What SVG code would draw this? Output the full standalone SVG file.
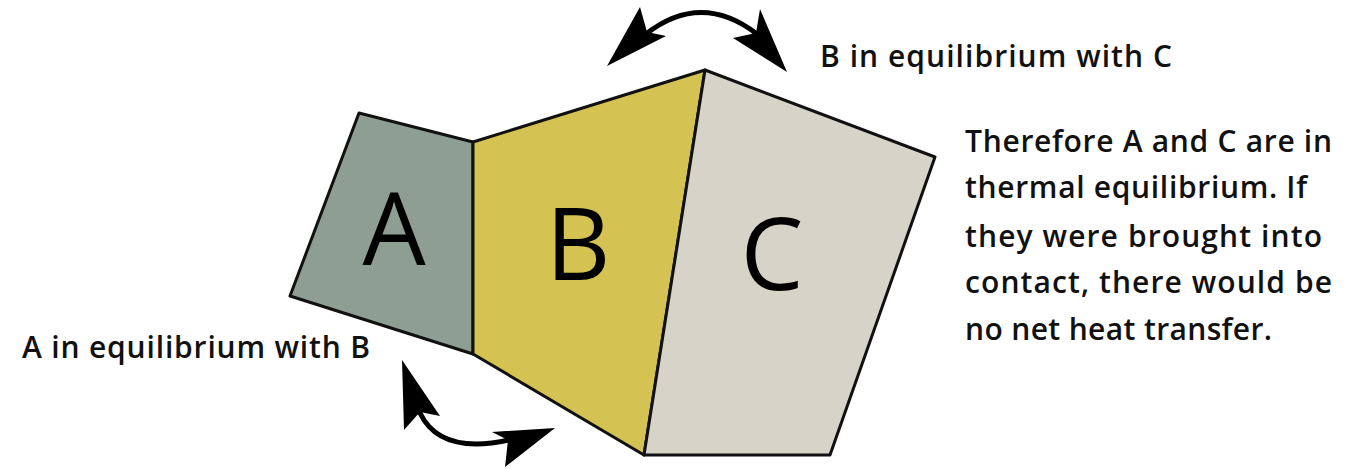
<svg xmlns="http://www.w3.org/2000/svg" width="1362" height="469" viewBox="0 0 1362 469">
<style>
.panel{stroke:#111;stroke-width:3;stroke-linejoin:round}
.big{font-family:"Open Sans","Noto Sans",sans-serif;font-size:100px;fill:#000;text-anchor:middle}
.lbl{font-family:"Open Sans","Noto Sans",sans-serif;font-size:30px;font-weight:600;fill:#111}
.shaft{fill:none;stroke:#000;stroke-width:5;stroke-linecap:round}
.head{fill:#000}
</style>
<rect width="1362" height="469" fill="#fff"/>
<g id="nodeA">
<polygon class="panel" points="359,113 473,142 473,354 290,296" fill="#8e9e93"/>
<text class="big" x="394" y="265">A</text>
</g>
<g id="nodeB">
<polygon class="panel" points="473,142 705,70 644,455 473,354" fill="#d4c252"/>
<text class="big" x="578" y="280">B</text>
</g>
<g id="nodeC">
<polygon class="panel" points="705,70 935,157 830,455 644,455" fill="#d6d4c9"/>
<text class="big" x="772" y="290">C</text>
</g>
<g id="connectors">
<path class="shaft" d="M646,34 Q701,-9 757,34"/>
<path class="head" d="M607,66 L640,7 L647,32 L666,36 Z"/>
<path class="head" d="M787,72 L760,9 L756,33 L733,38 Z"/>
<path class="shaft" d="M420,413 Q440,455 509,440"/>
<path class="head" d="M402,360 L440,416 L420,412 L404,430 Z"/>
<path class="head" d="M555,428 L492,432 L508,440 L505,467 Z"/>
</g>
<g id="labels">
<text class="lbl" x="820" y="67" textLength="352">B in equilibrium with C</text>
<text class="lbl" x="22" y="358" textLength="348">A in equilibrium with B</text>
<text class="lbl" x="965" y="152" textLength="367">Therefore A and C are in</text>
<text class="lbl" x="965" y="198" textLength="342">thermal equilibrium. If</text>
<text class="lbl" x="965" y="247" textLength="357">they were brought into</text>
<text class="lbl" x="965" y="293" textLength="367">contact, there would be</text>
<text class="lbl" x="965" y="340" textLength="307">no net heat transfer.</text>
</g>
</svg>
